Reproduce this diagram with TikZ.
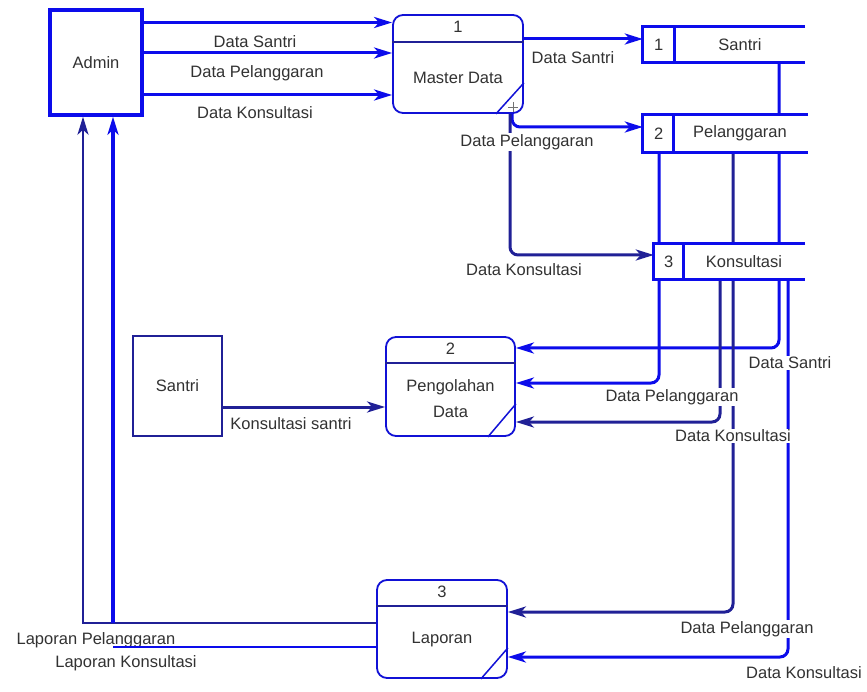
\documentclass[tikz,border=0pt]{standalone}
\usepackage{fontspec}
\setmainfont{Liberation Sans}
\usetikzlibrary{arrows.meta,calc}
\definecolor{fblue}{RGB}{12,12,235}
\definecolor{fnavy}{RGB}{32,32,150}
\definecolor{ftext}{RGB}{50,50,50}
\pgfdeclarelayer{back}
\pgfdeclarelayer{bg}
\pgfsetlayers{back,bg,main}
\begin{document}
\begin{tikzpicture}[x=1pt,y=-1pt,
  txt/.style={font=\fontsize{16.5}{26}\selectfont, text=ftext, inner sep=1pt},
  lbl/.style={txt, fill=white},
  ent/.style={txt, draw=fblue, line width=3.5pt, fill=white, inner sep=0pt},
  proc/.style={draw=fblue!75!fnavy, line width=1.8pt, rounded corners=10pt, fill=white, inner sep=0pt},
  procline/.style={draw=fnavy, line width=2pt},
  store/.style={fill=white, inner sep=0pt, draw=none},
  storeline/.style={draw=fblue, line width=3pt},
  flow/.style={draw=fblue, line width=3pt, -{Stealth[length=18pt,width=11pt,inset=5pt]}},
  plainline/.style={draw=fblue, line width=3pt},
  rc/.style={rounded corners=8pt}
]
\useasboundingbox (0,0) rectangle (867,692);
\begin{pgfonlayer}{back}
  \fill[white] (0,0) rectangle (867,692);
\end{pgfonlayer}

% external entities
\node[ent, minimum width=92pt, minimum height=105pt] (admin) at (96,62.5) {Admin};
\node[ent, draw=fnavy, line width=2.8pt, minimum width=89pt, minimum height=100pt] (santri) at (177.5,386) {Santri};

% processes
\node[proc, minimum width=130pt, minimum height=98pt] (p1) at (458,64) {};
\draw[procline] ([yshift=-28pt]p1.north west) -- ([yshift=-28pt]p1.north east);
\draw[draw=fblue!75!fnavy, line width=1.5pt] ([xshift=-28pt]p1.south east) -- ([yshift=31pt]p1.south east);
\node[txt] (p1n) at ([yshift=-13pt]p1.north) {1};
\node[txt] (p1t) at ([yshift=-14pt]p1.center) {Master Data};

\node[proc, minimum width=129pt, minimum height=99pt] (p2) at (450.5,386.5) {};
\draw[procline] ([yshift=-27pt]p2.north west) -- ([yshift=-27pt]p2.north east);
\draw[draw=fblue!75!fnavy, line width=1.5pt] ([xshift=-28pt]p2.south east) -- ([yshift=33pt]p2.south east);
\node[txt] (p2n) at ([yshift=-13pt]p2.north) {2};
\node[txt, align=center] (p2t) at ([yshift=-12pt]p2.center) {Pengolahan\\Data};

\node[proc, minimum width=130pt, minimum height=98pt] (p3) at (442,629) {};
\draw[procline] ([yshift=-27pt]p3.north west) -- ([yshift=-27pt]p3.north east);
\draw[draw=fblue!75!fnavy, line width=1.5pt] ([xshift=-27pt]p3.south east) -- ([yshift=31pt]p3.south east);
\node[txt] (p3n) at ([yshift=-13pt]p3.north) {3};
\node[txt] (p3t) at ([yshift=-11pt]p3.center) {Laporan};

% data stores
\node[store, minimum width=162pt, minimum height=35pt] (s1) at (724,44.5) {};
\draw[storeline] (s1.north east) -- (s1.north west) -- (s1.south west) -- (s1.south east);
\draw[storeline] ([xshift=32pt]s1.north west) -- ([xshift=32pt]s1.south west);
\node[txt] (s1n) at ([xshift=16pt]s1.west) {1};
\node[txt] (s1t) at ([xshift=16pt]s1.center) {Santri};

\node[store, minimum width=165pt, minimum height=37pt] (s2) at (725.5,133.5) {};
\draw[storeline] (s2.north east) -- (s2.north west) -- (s2.south west) -- (s2.south east);
\draw[storeline] ([xshift=31pt]s2.north west) -- ([xshift=31pt]s2.south west);
\node[txt] (s2n) at ([xshift=16pt]s2.west) {2};
\node[txt] (s2t) at ([xshift=14.5pt]s2.center) {Pelanggaran};

\node[store, minimum width=151pt, minimum height=35pt] (s3) at (729.5,261.5) {};
\draw[storeline] (s3.north east) -- (s3.north west) -- (s3.south west) -- (s3.south east);
\draw[storeline] ([xshift=30pt]s3.north west) -- ([xshift=30pt]s3.south west);
\node[txt] (s3n) at ([xshift=15pt]s3.west) {3};
\node[txt] (s3t) at ([xshift=14.5pt]s3.center) {Konsultasi};

% connector helper coordinates
\coordinate (a1) at ([yshift=40pt]admin.east);
\coordinate (a2) at ([yshift=9.5pt]admin.east);
\coordinate (a3) at ([yshift=-32.5pt]admin.east);
\coordinate (b1) at ([yshift=25pt]p1.east);
\coordinate (c1) at ([yshift=-21pt]santri.east);
\coordinate (d1) at ([yshift=-18pt]p3.west);
\coordinate (djoin) at (113,623);

\begin{pgfonlayer}{bg}
  \draw[flow] (a1) -- (a1 -| p1.west);
  \draw[flow] (a2) -- (a2 -| p1.west);
  \draw[flow] (a3) -- (a3 -| p1.west);
  \draw[flow] (b1) -- (b1 -| s1.west);
  \draw[flow, rc] ([xshift=54pt]p1.south) |- ([yshift=6.5pt]s2.west);
  \draw[flow, rc, draw=fnavy] ([xshift=52pt]p1.south) |- ([yshift=6.5pt]s3.west);
  \draw[flow, rc] ([xshift=55pt]s1.south) |- ([yshift=38.5pt]p2.east);
  \draw[flow, rc] ([xshift=-66.5pt]s2.south) |- ([yshift=3.5pt]p2.east);
  \draw[flow, rc, draw=fnavy] ([xshift=-9.5pt]s3.south) |- ([yshift=-35.5pt]p2.east);
  \draw[flow, rc, draw=fnavy] ([xshift=7.5pt]s2.south) |- ([yshift=17pt]p3.east);
  \draw[flow, rc] ([xshift=58.5pt]s3.south) |- ([yshift=-28pt]p3.east);
  \draw[flow, draw=fnavy] (c1) -- (c1 -| p2.west);
  \draw[flow, draw=fnavy, line width=2.6pt] ([yshift=6pt]p3.west) -| ([xshift=-13pt]admin.south);
  \draw[flow, line width=3.5pt] (djoin) -- (djoin |- admin.south);
\end{pgfonlayer}

% labels
\node[lbl] (l1) at (255,42) {Data Santri};
\node[lbl] (l2) at (257,73) {Data Pelanggaran};
\node[lbl] (l3) at (255,113) {Data Konsultasi};
\node[lbl] (l4) at (573,58) {Data Santri};
\node[lbl] (l5) at (527,142) {Data Pelanggaran};
\node[lbl] (l6) at (524,270) {Data Konsultasi};
\node[lbl] (l7) at (790,363) {Data Santri};
\node[lbl] (l8) at (672,397) {Data Pelanggaran};
\node[lbl] (l9) at (733,436) {Data Konsultasi};
\node[lbl] (l10) at (747,629) {Data Pelanggaran};
\node[lbl] (l11) at (804,673) {Data Konsultasi};
\node[lbl] (l12) at (291,424) {Konsultasi santri};
\node[lbl] (l13) at (96,640) {Laporan Pelanggaran};
\node[lbl] (l14) at (126,663) {Laporan Konsultasi};

% second report line (drawn over its label, as in the picture)
\draw[plainline, line width=2.6pt] (d1) -- (d1 -| djoin);

% small cross marker
\draw[line width=0.8pt, black!55] (508,107) -- (518,107) (513,102) -- (513,112);
\end{tikzpicture}
\end{document}
